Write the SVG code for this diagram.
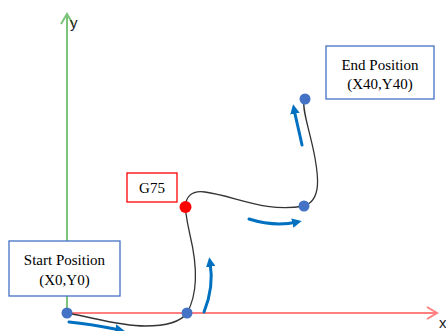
<svg xmlns="http://www.w3.org/2000/svg" width="446" height="331" viewBox="0 0 446 331">
  <style>
    .lbl { font-family: "Liberation Serif", "Times New Roman", serif; font-size: 15px; fill: #000; text-anchor: middle; }
    .axlbl { font-family: "Liberation Sans", Arial, sans-serif; font-size: 15px; fill: #222; }
    .box { fill: #fff; stroke-width: 1.3; }
    .path { fill: none; stroke: #333; stroke-width: 1.3; }
    .dir { fill: none; stroke: #0070C0; stroke-width: 3; stroke-linecap: round; marker-end: url(#dirHead); }
    .pt { fill: #4472C4; }
  </style>
  <defs>
    <marker id="dirHead" viewBox="0 0 10 10" refX="5" refY="5" markerWidth="3.2" markerHeight="3.2" orient="auto" markerUnits="strokeWidth">
      <path d="M0,0 L10,5 L0,10 Z" fill="#0070C0"/>
    </marker>
  </defs>

  <!-- axes -->
  <g id="axes">
    <line x1="67" y1="313" x2="67" y2="14" stroke="#7CC47C" stroke-width="2"/>
    <polyline points="61,24 67,14 73,24" fill="none" stroke="#7CC47C" stroke-width="2"/>
    <line x1="67" y1="313" x2="437" y2="313" stroke="#FF7F80" stroke-width="2"/>
    <polyline points="427,307 437,313 427,319" fill="none" stroke="#FF7F80" stroke-width="2"/>
    <text class="axlbl" x="70" y="28">y</text>
    <text class="axlbl" x="439" y="328">x</text>
  </g>

  <!-- tool path and direction arrows -->
  <g id="connectors">
    <path class="path" d="M67,313 C95,318 120,326 145,326 C170,326 182,320 187,313 C200,290 196,260 190,235 C187,222 186,214 185,207 C186,198 190,190 205,192 C235,196 265,213 304,206 C322,200 318,175 315,158 C310,130 302,112 304,99"/>
    <path class="dir" d="M69,322 C90,324 105,327 120,330"/>
    <path class="dir" d="M204,312 C211,295 213,280 210,262"/>
    <path class="dir" d="M249,219 C265,224 280,226 297,222"/>
    <path class="dir" d="M302,145 C299,131 296,119 294,109"/>
  </g>

  <g id="start">
    <rect class="box" x="9" y="241" width="111" height="55" stroke="#4472C4"/>
    <text class="lbl" x="64.5" y="265">Start Position</text>
    <text class="lbl" x="64.5" y="285">(X0,Y0)</text>
    <circle class="pt" cx="67" cy="313" r="5.5"/>
  </g>

  <g id="p1">
    <circle class="pt" cx="187" cy="313" r="5.5"/>
  </g>

  <g id="g75">
    <rect class="box" x="127" y="173" width="50" height="29" stroke="#FF0000"/>
    <text class="lbl" x="152" y="193">G75</text>
    <circle cx="185.5" cy="207" r="6" fill="#FF0000"/>
  </g>

  <g id="p3">
    <circle class="pt" cx="304" cy="206" r="5.5"/>
  </g>

  <g id="end">
    <rect class="box" x="326" y="46" width="108" height="53" stroke="#4472C4"/>
    <text class="lbl" x="380" y="70">End Position</text>
    <text class="lbl" x="380" y="89">(X40,Y40)</text>
    <circle class="pt" cx="305" cy="99" r="5.5"/>
  </g>
</svg>
